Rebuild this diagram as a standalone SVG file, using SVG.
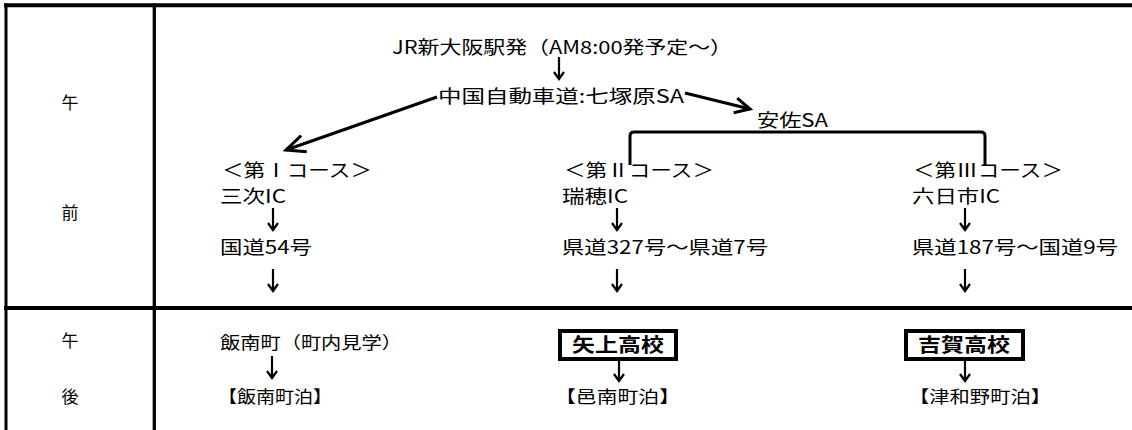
<svg xmlns="http://www.w3.org/2000/svg" width="1132" height="430" viewBox="0 0 1132 430">
<style>
text{font-family:"Noto Sans CJK JP","Noto Sans CJK SC",sans-serif;font-size:18px;fill:#000}
.s{font-size:17px}
.lbl{font-size:17px;text-anchor:middle}
.b{font-weight:bold;font-size:19px;text-anchor:middle}
.tl{stroke:#000;fill:none}
.cn{stroke:#000;fill:none;stroke-width:3}
.da{stroke:#000;fill:none;stroke-width:2.2}
.box{fill:#fff;stroke:#000;stroke-width:4}
</style>
<defs>
<marker id="hL" viewBox="0 0 24 20" refX="21" refY="10" markerWidth="24" markerHeight="20" markerUnits="userSpaceOnUse" orient="auto"><path d="M2,1.5 L21,10 L2,18.5" fill="none" stroke="#000" stroke-width="3"/></marker>
<marker id="hS" viewBox="0 0 20 18" refX="17" refY="9" markerWidth="20" markerHeight="18" markerUnits="userSpaceOnUse" orient="auto"><path d="M2,1.5 L17,9 L2,16.5" fill="none" stroke="#000" stroke-width="3"/></marker>
<path id="da" d="M0,0 V22 M-5,15 L0,22 L5,15"/>
</defs>
<g id="table">
<line class="tl" x1="4" y1="5.3" x2="1132" y2="5.3" stroke-width="4"/>
<line class="tl" x1="6" y1="3.5" x2="6" y2="430" stroke-width="3"/>
<line class="tl" x1="154.3" y1="3.5" x2="154.3" y2="430" stroke-width="3.3"/>
<line class="tl" x1="4" y1="308" x2="1132" y2="308" stroke-width="4"/>
<text class="lbl" x="70" y="109">午</text>
<text class="lbl" x="70" y="219">前</text>
<text class="lbl" x="70" y="347">午</text>
<text class="lbl" x="70" y="403">後</text>
</g>
<g id="start"><text x="392" y="54" textLength="340" lengthAdjust="spacingAndGlyphs">JR新大阪駅発（AM8:00発予定～）</text></g>
<g id="shichizukahara"><text x="438" y="103" textLength="246" lengthAdjust="spacingAndGlyphs">中国自動車道:七塚原SA</text></g>
<g id="asa"><text x="757" y="127" textLength="71" lengthAdjust="spacingAndGlyphs">安佐SA</text></g>
<g id="course1">
<text x="222" y="177" textLength="150" lengthAdjust="spacingAndGlyphs">＜第Ⅰコース＞</text>
<text x="220" y="203" textLength="66" lengthAdjust="spacingAndGlyphs">三次IC</text>
<text x="220" y="254" textLength="92" lengthAdjust="spacingAndGlyphs">国道54号</text>
</g>
<g id="course2">
<text x="564" y="177" textLength="150" lengthAdjust="spacingAndGlyphs">＜第Ⅱコース＞</text>
<text x="562" y="203" textLength="66" lengthAdjust="spacingAndGlyphs">瑞穂IC</text>
<text x="562" y="254" textLength="206" lengthAdjust="spacingAndGlyphs">県道327号～県道7号</text>
</g>
<g id="course3">
<text x="913" y="177" textLength="150" lengthAdjust="spacingAndGlyphs">＜第Ⅲコース＞</text>
<text x="912" y="203" textLength="88" lengthAdjust="spacingAndGlyphs">六日市IC</text>
<text x="912" y="254" textLength="206" lengthAdjust="spacingAndGlyphs">県道187号～国道9号</text>
</g>
<g id="iinan">
<text class="s" x="220" y="349" textLength="182" lengthAdjust="spacingAndGlyphs">飯南町（町内見学）</text>
<text class="s" x="218" y="403" textLength="114" lengthAdjust="spacingAndGlyphs">【飯南町泊】</text>
</g>
<g id="yakami">
<rect class="box" x="560" y="331" width="116" height="28"/>
<text class="b" x="618" y="352" textLength="92" lengthAdjust="spacingAndGlyphs">矢上高校</text>
<text class="s" x="555" y="403" textLength="125" lengthAdjust="spacingAndGlyphs">【邑南町泊】</text>
</g>
<g id="yoshika">
<rect class="box" x="906" y="331" width="117" height="28"/>
<text class="b" x="964" y="352" textLength="92" lengthAdjust="spacingAndGlyphs">吉賀高校</text>
<text class="s" x="909" y="403" textLength="142" lengthAdjust="spacingAndGlyphs">【津和野町泊】</text>
</g>
<g id="connectors">
<line class="cn" x1="437" y1="97" x2="286" y2="150" marker-end="url(#hL)"/>
<line class="cn" x1="685" y1="93" x2="750" y2="109" marker-end="url(#hS)"/>
<path class="cn" d="M630,165 V136 Q630,132 634,132 H981 Q985,132 985,136 V165"/>
<use class="da" href="#da" x="559" y="57"/>
<use class="da" href="#da" x="273" y="208"/>
<use class="da" href="#da" x="273" y="269"/>
<use class="da" href="#da" x="617" y="208"/>
<use class="da" href="#da" x="617" y="269"/>
<use class="da" href="#da" x="965" y="208"/>
<use class="da" href="#da" x="965" y="269"/>
<use class="da" href="#da" x="272" y="356"/>
<use class="da" href="#da" x="619" y="359"/>
<use class="da" href="#da" x="965" y="359"/>
</g>
</svg>
